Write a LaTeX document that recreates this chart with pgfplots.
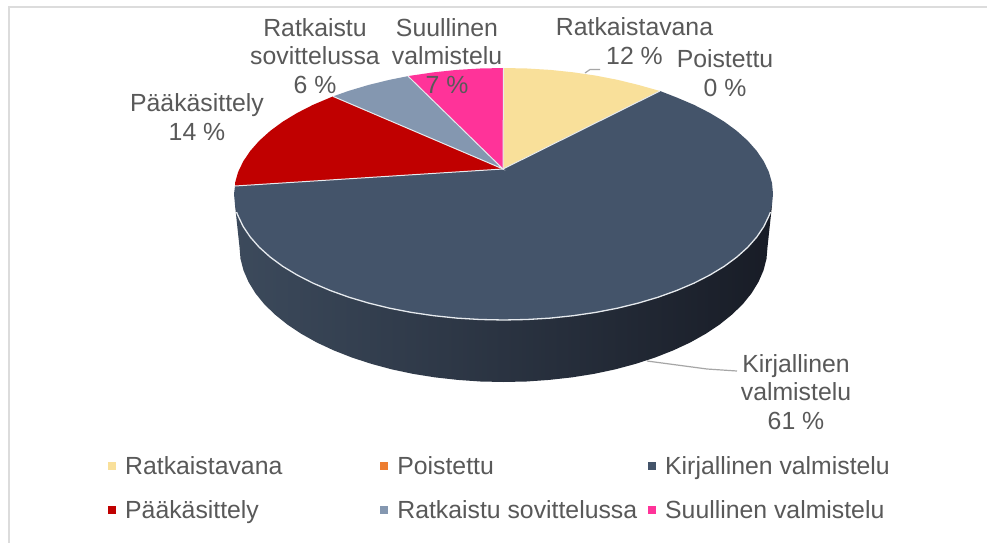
\documentclass[border=0pt]{standalone}
\usepackage{pgfplots}
\usepackage{fontspec}
\setmainfont{Liberation Sans}
\pgfplotsset{compat=1.18}
\definecolor{yel}{HTML}{F9E09A}
\definecolor{ora}{HTML}{ED7D31}
\definecolor{slate}{HTML}{44546A}
\definecolor{rd}{HTML}{C00000}
\definecolor{gbl}{HTML}{8497B0}
\definecolor{pnk}{HTML}{FF3399}
\definecolor{txt}{HTML}{595959}
\definecolor{sep}{HTML}{E6EAEE}
\definecolor{frm}{HTML}{DCDCDC}
\definecolor{lead}{HTML}{A6A6A6}
\definecolor{wallL}{HTML}{3C4A5C}
\definecolor{wallM}{HTML}{252B37}
\definecolor{wallR}{HTML}{181C26}
\newcommand{\lbl}{\fontsize{24.8}{28.4}\selectfont\color{txt}}
\begin{document}
\begin{tikzpicture}
\begin{axis}[
  scale only axis, width=987pt, height=543pt,
  xmin=0, xmax=987, ymin=0, ymax=543, y dir=reverse,
  hide axis, clip=true,
  legend columns=3,
  legend cell align=left,
  legend image code/.code={\path[#1,draw=none] (0pt,-4pt) rectangle (8pt,4pt);},
  legend style={at={(axis cs:108,454)}, anchor=north west, draw=none, fill=none,
    font=\lbl, row sep=21pt, inner sep=0pt,
    /tikz/column 1/.style={column sep=7pt},
    /tikz/column 2/.style={column sep=96pt},
    /tikz/column 3/.style={column sep=7pt},
    /tikz/column 4/.style={column sep=9pt},
    /tikz/column 5/.style={column sep=7pt}},
]
\addplot[forget plot, draw=none, fill=white] coordinates {(0,0)(987,0)(987,543)(0,543)} -- cycle;
\addplot[forget plot, frm, line width=2pt] coordinates {(987,7)(9,7)(9,543)};
% side wall
\addplot[forget plot, draw=none, left color=wallL, middle color=wallM, right color=wallR]
 coordinates {(235,205)(239.5,247)(240.5,258.8)(243.5,270.4)(248.5,281.9)(255.4,293.2)(264.2,304.1)(274.9,314.5)(287.2,324.4)(301.3,333.8)(316.8,342.5)(333.8,350.4)(352.1,357.6)(371.5,363.9)(391.9,369.4)(413.2,373.9)(435.2,377.4)(457.7,379.9)(480.5,381.5)(503.5,382)(526.5,381.5)(549.3,379.9)(571.8,377.4)(593.8,373.9)(615.1,369.4)(635.5,363.9)(654.9,357.6)(673.2,350.4)(690.2,342.5)(705.7,333.8)(719.8,324.4)(732.1,314.5)(742.8,304.1)(751.6,293.2)(758.5,281.9)(763.5,270.4)(766.5,258.8)(767.5,247)(772,205)(503.5,250)} -- cycle;
% top face: slices 12, 0, 61, 14, 6, 7 %
\addplot[draw=none, fill=yel] coordinates {(503,169)(503.5,68)(527,68.5)(550.3,69.9)(573.2,72.3)(595.7,75.6)(617.4,79.8)(638.25,84.9)(660,91)} -- cycle;
\addlegendentry{Ratkaistavana}
\addplot[draw=none, fill=ora] coordinates {(660,91)(660,91)(660,91)} -- cycle;
\addlegendentry{Poistettu}
\addplot[draw=none, fill=slate] coordinates {(503,169)(660,91)(676.7,97.5)(694.1,104.9)(709.9,113)(724.3,121.7)(736.9,131)(747.8,140.8)(756.7,150.9)(763.8,161.4)(768.9,172.1)(772,183)(773,194)(772,205)(768.9,215.9)(763.8,226.6)(756.7,237.1)(747.8,247.2)(736.9,257)(724.3,266.3)(709.9,275)(694.1,283.1)(676.7,290.5)(658.1,297.2)(638.25,303.1)(617.4,308.2)(595.7,312.4)(573.2,315.7)(550.3,318.1)(527,319.5)(503.5,320)(480,319.5)(456.7,318.1)(433.8,315.7)(411.3,312.4)(389.6,308.2)(368.75,303.1)(348.9,297.2)(330.3,290.5)(312.9,283.1)(297.1,275)(282.7,266.3)(270.1,257)(259.2,247.2)(250.3,237.1)(243.2,226.6)(238.1,215.9)(235,205)(234,194)(235,186)} -- cycle;
\addlegendentry{Kirjallinen valmistelu}
\addplot[draw=none, fill=rd] coordinates {(503,169)(235,186)(235,183)(238.1,172.1)(243.2,161.4)(250.3,150.9)(259.2,140.8)(270.1,131)(282.7,121.7)(297.1,113)(312.9,104.9)(333,96.4)} -- cycle;
\addlegendentry{Pääkäsittely}
\addplot[draw=none, fill=gbl] coordinates {(503,169)(333,96.4)(348.9,90.8)(368.75,84.9)(389.6,79.8)(408,76.1)} -- cycle;
\addlegendentry{Ratkaistu sovittelussa}
\addplot[draw=none, fill=pnk] coordinates {(503,169)(408,76.1)(411.3,75.6)(433.8,72.3)(456.7,69.9)(480,68.5)(503.5,68)} -- cycle;
\addlegendentry{Suullinen valmistelu}
% separators
\addplot[forget plot, sep, line width=1pt] coordinates {(503.5,68)(503,169)};
\addplot[forget plot, sep, line width=1pt] coordinates {(660,91)(503,169)(235,186)};
\addplot[forget plot, sep, line width=1pt] coordinates {(333,96.4)(503,169)(408,76.1)};
% rim
\addplot[forget plot, sep, line width=1.3pt] coordinates {(236.5,212)(238.1,215.9)(243.2,226.6)(250.3,237.1)(259.2,247.2)(270.1,257)(282.7,266.3)(297.1,275)(312.9,283.1)(330.3,290.5)(348.9,297.2)(368.75,303.1)(389.6,308.2)(411.3,312.4)(433.8,315.7)(456.7,318.1)(480,319.5)(503.5,320)(527,319.5)(550.3,318.1)(573.2,315.7)(595.7,312.4)(617.4,308.2)(638.25,303.1)(658.1,297.2)(676.7,290.5)(694.1,283.1)(709.9,275)(724.3,266.3)(736.9,257)(747.8,247.2)(756.7,237.1)(763.8,226.6)(768.9,215.9)(770.5,212)};
% leaders
\addplot[forget plot, lead, line width=1.2pt] coordinates {(585,73)(590,69.5)(600,69.5)};
\addplot[forget plot, lead, line width=1.2pt] coordinates {(647,361)(707,369)(737,371)};
% labels
\node[align=center,font=\lbl,inner sep=0pt] at (axis cs:634.5,41) {Ratkaistavana\\12 \%};
\node[align=center,font=\lbl,inner sep=0pt] at (axis cs:725,73) {Poistettu\\0 \%};
\node[align=center,font=\lbl,inner sep=0pt] at (axis cs:315,56) {Ratkaistu\\sovittelussa\\6 \%};
\node[align=center,font=\lbl,inner sep=0pt] at (axis cs:447,56) {Suullinen\\valmistelu\\7 \%};
\node[align=center,font=\lbl,inner sep=0pt] at (axis cs:197,117) {Pääkäsittely\\14 \%};
\node[align=center,font=\lbl,inner sep=0pt] at (axis cs:796,392) {Kirjallinen\\valmistelu\\61 \%};
\end{axis}
\end{tikzpicture}
\end{document}
